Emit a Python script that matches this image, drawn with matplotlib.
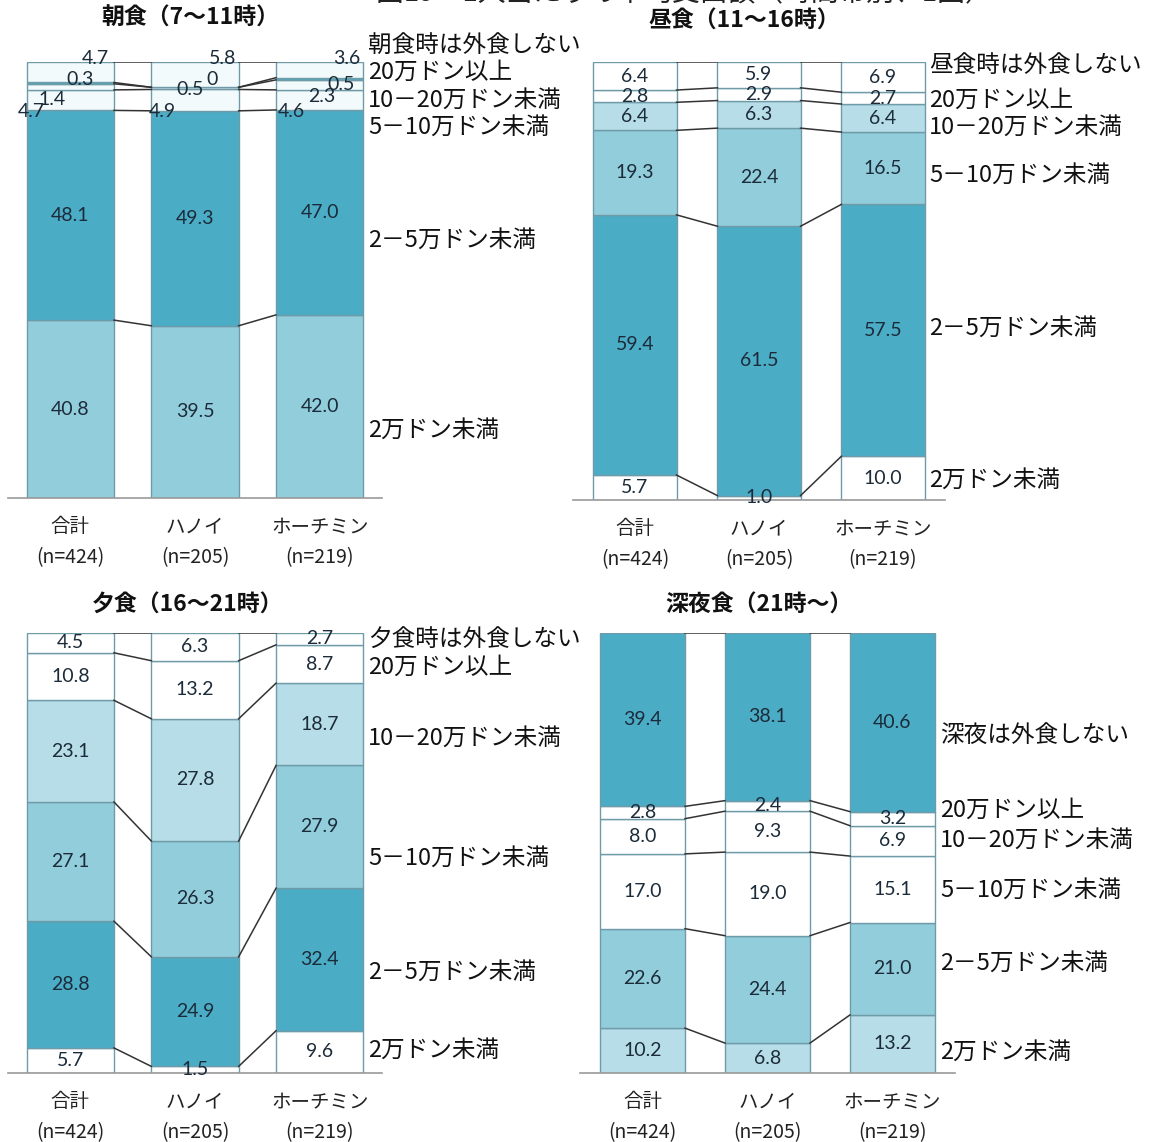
import matplotlib
matplotlib.use("Agg")
import matplotlib.pyplot as plt

plt.rcParams['font.family'] = ['Noto Sans CJK JP', 'DejaVu Sans']

W, H = 1152, 1142

regions = ['合計', 'ハノイ', 'ホーチミン']
sizes = [424, 205, 219]

# segments bottom -> top: 2万未満, 2-5万, 5-10万, 10-20万, 20万以上, 外食しない
segments = ['2万ドン未満', '2－5万ドン未満', '5－10万ドン未満', '10－20万ドン未満', '20万ドン以上']

breakfast = [[40.8, 39.5, 42.0], [48.1, 49.3, 47.0], [4.7, 4.9, 4.6],
             [1.4, 0.5, 2.3], [0.3, 0.0, 0.5], [4.7, 5.8, 3.6]]
lunch = [[5.7, 1.0, 10.0], [59.4, 61.5, 57.5], [19.3, 22.4, 16.5],
         [6.4, 6.3, 6.4], [2.8, 2.9, 2.7], [6.4, 5.9, 6.9]]
dinner = [[5.7, 1.5, 9.6], [28.8, 24.9, 32.4], [27.1, 26.3, 27.9],
          [23.1, 27.8, 18.7], [10.8, 13.2, 8.7], [4.5, 6.3, 2.7]]
late = [[10.2, 6.8, 13.2], [22.6, 24.4, 21.0], [17.0, 19.0, 15.1],
        [8.0, 9.3, 6.9], [2.8, 2.4, 3.2], [39.4, 38.1, 40.6]]

TEAL = '#4bacc6'
MID = '#92cddc'
LIGHT = '#b7dee8'
WHITE = '#ffffff'
PALE = '#f3fafc'

panels = [
    dict(title='朝食（7～11時）', none='朝食時は外食しない', data=breakfast,
         colors=[MID, TEAL, PALE, PALE, TEAL, PALE],
         rect=(8, 62, 382, 498), width=0.70, label_x=2.39,
         label_y=[15.6, 59.2, 85.1, 91.3, 97.7, 103.9], title_xy=(190, 18),
         # crowded small values: explicit (x, y) per (segment, bar)
         overrides={(2, 0): (-0.31, 88.6), (3, 0): (-0.15, 91.5), (4, 0): (0.08, 95.9), (5, 0): (0.20, 100.8),
                    (2, 1): (0.74, 88.6), (3, 1): (0.96, 93.6), (4, 1): (1.14, 95.9), (5, 1): (1.22, 100.8),
                    (2, 2): (1.77, 88.6), (3, 2): (2.02, 92.0), (4, 2): (2.17, 94.8), (5, 2): (2.22, 100.8)}),
    dict(title='昼食（11～16時）', none='昼食時は外食しない', data=lunch,
         colors=[WHITE, TEAL, MID, LIGHT, WHITE, WHITE],
         rect=(573, 62, 945, 500), width=0.67, label_x=2.37,
         label_y=[4.6, 39.3, 74.2, 85.2, 91.3, 99.3], title_xy=(744, 21), overrides={}),
    dict(title='夕食（16～21時）', none='夕食時は外食しない', data=dinner,
         colors=[WHITE, TEAL, MID, LIGHT, WHITE, WHITE],
         rect=(8, 633, 382, 1073), width=0.70, label_x=2.39,
         label_y=[5.2, 23.0, 48.9, 76.1, 92.3, 98.4], title_xy=(188, 605), overrides={}),
    dict(title='深夜食（21時～）', none='深夜は外食しない', data=late,
         colors=[LIGHT, MID, WHITE, WHITE, WHITE, TEAL],
         rect=(580, 633, 955, 1073), width=0.68, label_x=2.38,
         label_y=[4.8, 25.0, 41.6, 53.0, 59.8, 76.8], title_xy=(759, 605), overrides={}),
]

fig = plt.figure(figsize=(W / 100, H / 100), dpi=100)
fig.patch.set_facecolor('white')

fig.text(684 / W, 1 + 7 / H, '図19　1人当たりの平均支出額（時間帯別、1回）',
         ha='center', va='center', fontsize=20, color='#222222')

for p in panels:
    x0, y0, x1, y1 = p['rect']
    ax = fig.add_axes([x0 / W, 1 - y1 / H, (x1 - x0) / W, (y1 - y0) / H])
    data = p['data']
    w = p['width']
    xs = range(len(regions))

    bottoms = [0.0] * len(regions)
    levels = []
    for k, row in enumerate(data):
        ax.bar(xs, row, width=w, bottom=bottoms, color=p['colors'][k],
               edgecolor='#6f9ba8', linewidth=1.0, zorder=2)
        for i, v in enumerate(row):
            txt = '0' if v == 0 else f'{v:.1f}'
            if (k, i) in p['overrides']:
                tx, ty = p['overrides'][(k, i)]
            else:
                tx, ty = i, bottoms[i] + v / 2
            ax.text(tx, ty, txt, ha='center', va='center', fontsize=14,
                    family=['Lato', 'DejaVu Sans'], color='#1c2b39', zorder=4)
        bottoms = [b + v for b, v in zip(bottoms, row)]
        levels.append(list(bottoms))

    # series lines between bars
    for lev in levels:
        for i in range(len(regions) - 1):
            ax.plot([i + w / 2, i + 1 - w / 2], [lev[i], lev[i + 1]],
                    color='#333333', linewidth=1.1, zorder=3)

    names = segments + [p['none']]
    for name, ly in zip(names, p['label_y']):
        ax.text(p['label_x'], ly, name, ha='left', va='center', fontsize=17,
                color='#111111')

    ax.set_xlim(-0.5, 2.5)
    ax.set_ylim(0, 100)
    ax.set_xticks(list(xs))
    ax.set_xticklabels([f'{r}\n(n={n})' for r, n in zip(regions, sizes)],
                       fontsize=14, linespacing=1.6, color='#222222')
    ax.tick_params(axis='x', length=0, pad=13)
    ax.set_yticks([])
    for side in ['top', 'left', 'right']:
        ax.spines[side].set_visible(False)
    ax.spines['bottom'].set_color('#9a9a9a')
    ax.spines['bottom'].set_linewidth(1.2)
    ax.set_facecolor('none')

    tx, ty = p['title_xy']
    fig.text(tx / W, 1 - ty / H, p['title'], ha='center', va='center',
             fontsize=16.5, fontweight='bold', color='#111111')

fig.savefig('out.png', dpi=100)
